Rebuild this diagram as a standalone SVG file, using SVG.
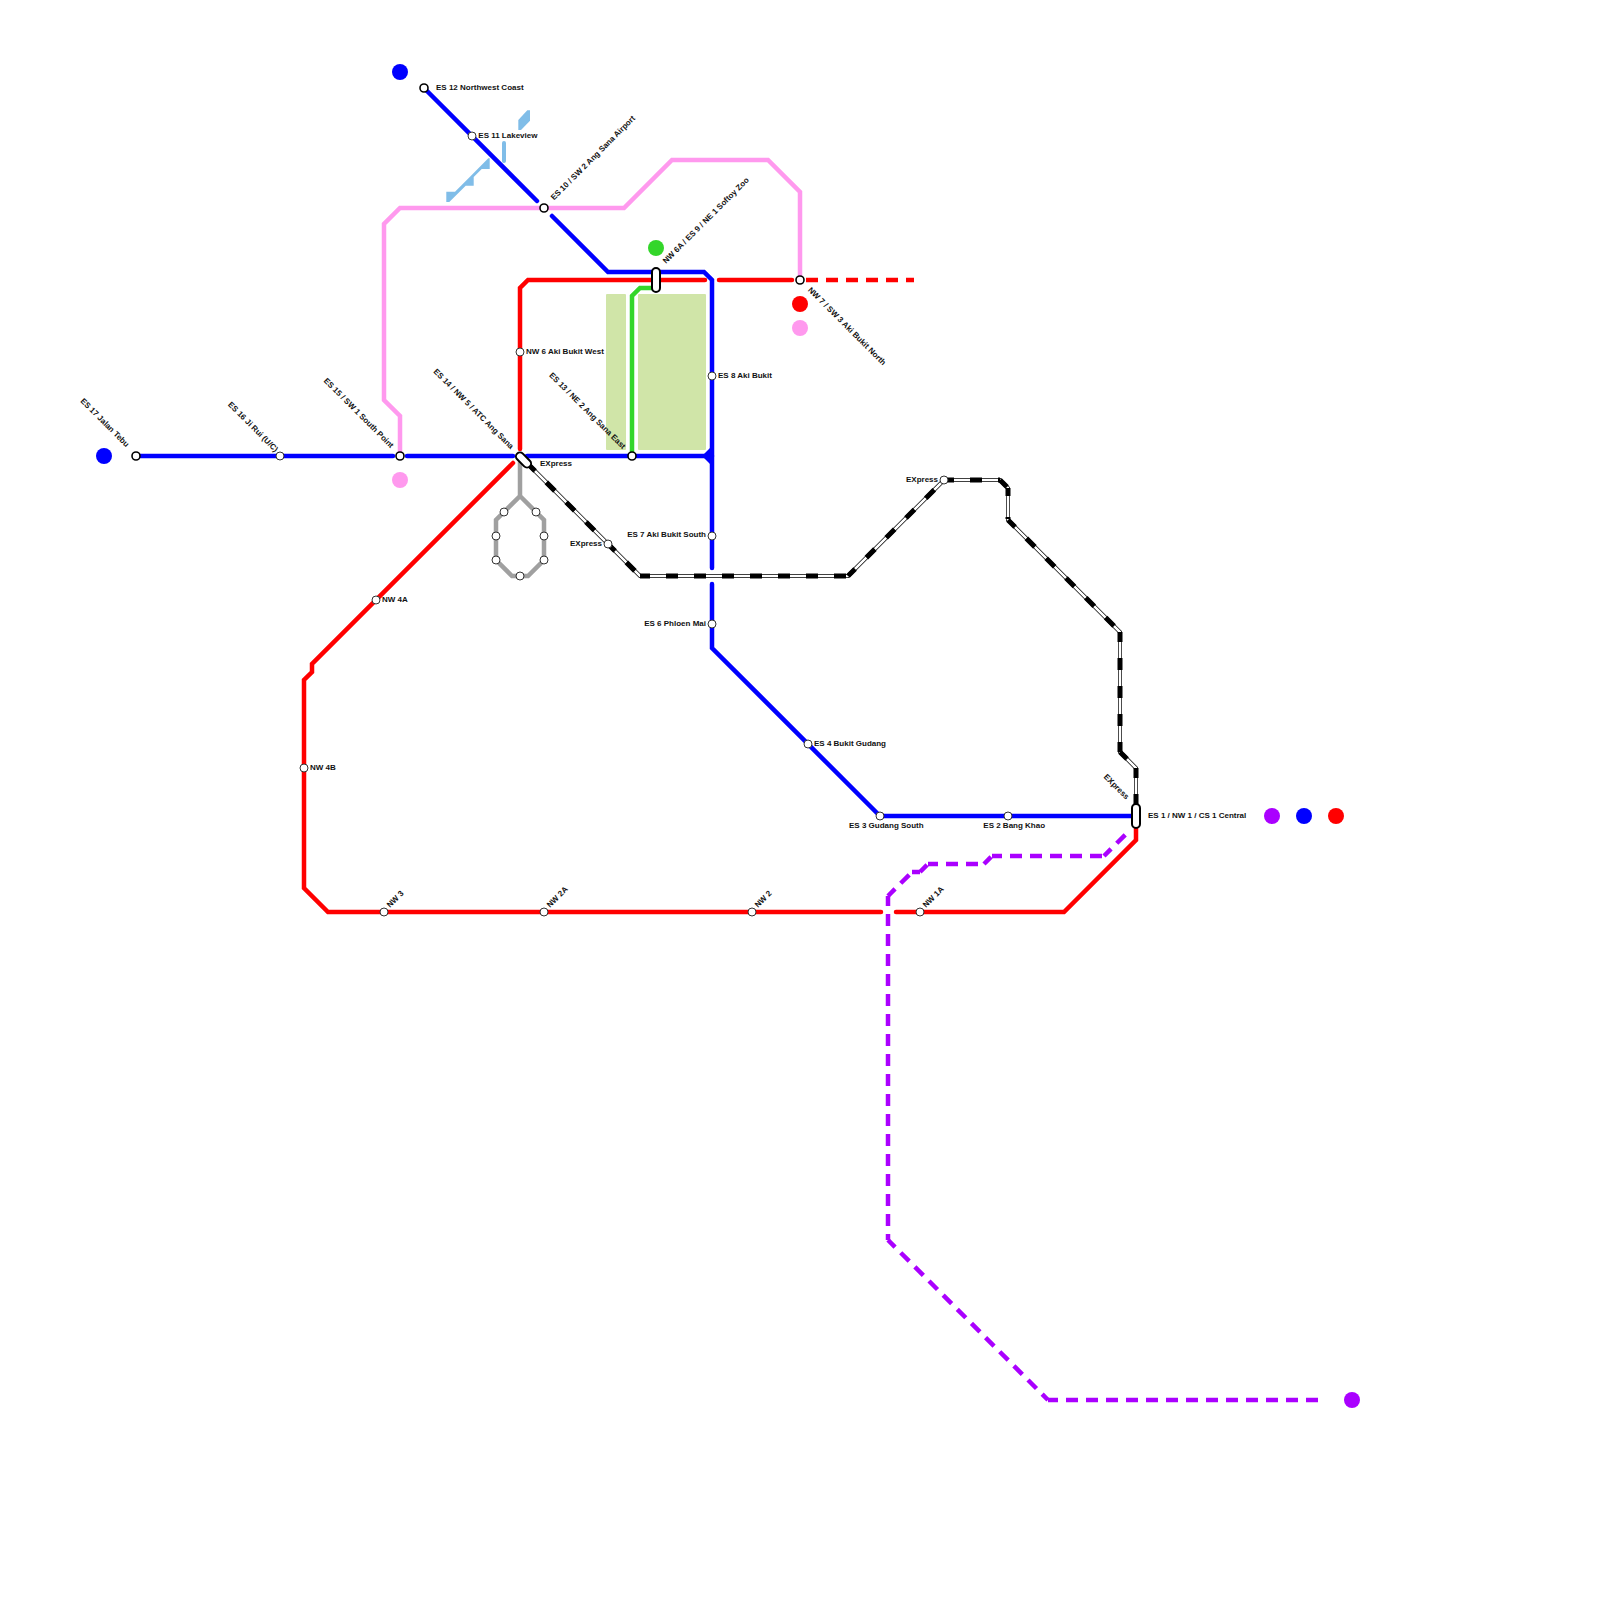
<svg xmlns="http://www.w3.org/2000/svg" width="1600" height="1600" viewBox="0 0 1600 1600">
<style>
.bg{fill:#fff}
.park{fill:#d0e5a8}
.water{fill:#80bde8}
.ln{fill:none;stroke-width:4.5;stroke-linejoin:miter;stroke-linecap:round}
.blue{stroke:#0000ff}.red{stroke:#ff0000}.pink{stroke:#ff99ee}.green{stroke:#33d62a}.gray{stroke:#a0a0a0}
.dash{stroke-linecap:butt;stroke-dasharray:12 8;stroke-dashoffset:2}
.pur{stroke:#aa00ff}
.xb{fill:none;stroke:#000;stroke-width:4}
.xw{fill:none;stroke:#fff;stroke-width:2.6}
.xd{fill:none;stroke:#000;stroke-width:5;stroke-dasharray:12 16;stroke-dashoffset:2}
.st{fill:#fff;stroke:#333;stroke-width:1}
.ic{fill:#fff;stroke:#000;stroke-width:1.6}
.ir{fill:#fff;stroke:#000;stroke-width:2}
.lb{font-family:"Liberation Sans",Arial,sans-serif;font-size:8px;font-weight:700;fill:#111}
.e{text-anchor:end}
</style>
<rect class="bg" width="1600" height="1600"/>
<g id="parks">
<rect class="park" x="606" y="294" width="20" height="156" rx="1"/>
<rect class="park" x="638" y="294" width="68" height="156" rx="1"/>
</g>
<g id="water">
<polygon class="water" points="446.300,191.700 455,191.700 470,176.700 488.300,158.300 489.700,158.300 489.700,169 481.700,169 473.700,177 473.700,185.700 465.700,185.700 449.300,202 446.300,202"/>
<polygon class="water" points="518.300,120 527.300,110.300 530,110.300 530,120.700 521,130 518.300,130"/>
<path d="M504 143V161" fill="none" stroke="#80bde8" stroke-width="4" stroke-linecap="round"/>
</g>
<g id="connectors">
<path class="ln gray" d="M520 462V496L496 520V560L512 576H528L544 560V520L520 496"/>
<path class="ln pink" d="M400 456V416L384 400V224L400 208H624L672 160H768L800 192V280"/>
<path class="ln green" d="M632 456V296L640 288H656"/>
<path class="ln red" d="M520 449V288L528 280H705"/>
<path class="ln red" d="M719 280H792"/>
<path class="ln red" style="stroke-linecap:butt;stroke-dasharray:12 8;stroke-dashoffset:14" d="M800 280H914"/>
<path class="ln red" d="M1136 828V840L1064 912H896"/>
<path class="ln red" d="M881 912H328L304 888V680L312 672V664L513 463"/>
<path class="ln blue" d="M136 456H393"/>
<path class="ln blue" d="M407 456H513"/>
<path class="ln blue" d="M527 456H712"/>
<path class="ln blue" d="M424 88L537 201"/>
<path class="ln blue" d="M552 216L608 272H704L712 280V568"/>
<path class="ln blue" d="M712 584V648L880 816H1136"/>
<polygon fill="#0000ff" points="702,456 711,447 711,465"/>
<path class="ln pur dash" d="M888 896L912 872"/>
<path class="ln pur dash" d="M912 872H920"/>
<path class="ln pur dash" d="M920 872L928 864"/>
<path class="ln pur dash" d="M928 864H984"/>
<path class="ln pur dash" d="M984 864L992 856"/>
<path class="ln pur dash" d="M992 856H1104"/>
<path class="ln pur dash" d="M1104 856L1128 832"/>
<path class="ln pur dash" d="M888 896V1240"/>
<path class="ln pur dash" d="M888 1240L1048 1400"/>
<path class="ln pur dash" d="M1048 1400H1320"/>
<path class="xb" d="M528 464L640 576H848L944 480H1000L1008 488V520L1120 632V752L1136 768V816"/>
<path class="xw" d="M528 464L640 576H848L944 480H1000L1008 488V520L1120 632V752L1136 768V816"/>
<path class="xd" d="M528 464L608 544"/>
<path class="xd" d="M608 544L640 576"/>
<path class="xd" d="M640 576H848"/>
<path class="xd" d="M848 576L944 480"/>
<path class="xd" d="M944 480H1000"/>
<path class="xd" d="M1000 480L1008 488"/>
<path class="xd" style="stroke-dasharray:10 21 2" d="M1008 488V520"/>
<path class="xd" d="M1008 520L1120 632"/>
<path class="xd" d="M1120 632V752"/>
<path class="xd" d="M1120 752L1136 768"/>
<path class="xd" d="M1136 768V816"/>
</g>
<g id="terminals">
<circle cx="400" cy="72" r="8" fill="#0000ff"/>
<circle cx="104" cy="456" r="8" fill="#0000ff"/>
<circle cx="400" cy="480" r="8" fill="#ff99ee"/>
<circle cx="800" cy="304" r="8" fill="#ff0000"/>
<circle cx="800" cy="328" r="8" fill="#ff99ee"/>
<circle cx="656" cy="248" r="8" fill="#33d62a"/>
<circle cx="1272" cy="816" r="8" fill="#aa00ff"/>
<circle cx="1304" cy="816" r="8" fill="#0000ff"/>
<circle cx="1336" cy="816" r="8" fill="#ff0000"/>
<circle cx="1352" cy="1400" r="8" fill="#aa00ff"/>
</g>
<g id="es17"><circle class="ic" cx="136" cy="456" r="4"/><text class="lb e" transform="rotate(45 126 447.500)" x="126" y="447.500">ES 17 Jalan Tebu</text></g>
<g id="es16"><circle class="st" cx="280" cy="456" r="4"/><text class="lb e" transform="rotate(45 275 452.500)" x="275" y="452.500">ES 16 Ji Rui (U/C)</text></g>
<g id="es15"><circle class="ic" cx="400" cy="456" r="4"/><text class="lb e" transform="rotate(45 390.500 448.500)" x="390.500" y="448.500">ES 15 / SW 1 South Point</text></g>
<g id="es14"><rect class="ir" x="514.500" y="456" width="18" height="8" rx="4" transform="rotate(45 523.500 460)"/><text class="lb e" transform="rotate(45 510.500 449.500)" x="510.500" y="449.500">ES 14 / NW 5 / ATC Ang Sana</text><text class="lb" x="540" y="465.500">EXpress</text></g>
<g id="es13"><circle class="ic" cx="632" cy="456" r="4"/><text class="lb e" transform="rotate(45 622.500 449.500)" x="622.500" y="449.500">ES 13 / NE 2 Ang Sana East</text></g>
<g id="es12"><circle class="ic" cx="424" cy="88" r="4"/><text class="lb" x="436" y="89.500">ES 12 Northwest Coast</text></g>
<g id="es11"><circle class="st" cx="472" cy="136" r="4"/><text class="lb" x="478.300" y="137.500">ES 11 Lakeview</text></g>
<g id="es10"><circle class="ic" cx="544" cy="208" r="4"/><text class="lb" transform="rotate(-45 554 200.500)" x="554" y="200.500">ES 10 / SW 2 Ang Sana Airport</text></g>
<g id="nw6a"><rect class="ir" x="652" y="268" width="8" height="24" rx="4"/><text class="lb" transform="rotate(-45 666 264)" x="666" y="264">NW 6A / ES 9 / NE 1 Softoy Zoo</text></g>
<g id="nw7"><circle class="ic" cx="800" cy="280" r="4"/><text class="lb" transform="rotate(45 807.500 290.500)" x="807.500" y="290.500">NW 7 / SW 3 Aki Bukit North</text></g>
<g id="nw6"><circle class="st" cx="520" cy="352" r="4"/><text class="lb" x="526" y="353.500">NW 6 Aki Bukit West</text></g>
<g id="es8"><circle class="st" cx="712" cy="376" r="4"/><text class="lb" x="718" y="377.500">ES 8 Aki Bukit</text></g>
<g id="es7"><circle class="st" cx="712" cy="536" r="4"/><text class="lb e" x="706" y="537">ES 7 Aki Bukit South</text></g>
<g id="es6"><circle class="st" cx="712" cy="624" r="4"/><text class="lb e" x="706" y="625.500">ES 6 Phloen Mai</text></g>
<g id="es4"><circle class="st" cx="808" cy="744" r="4"/><text class="lb" x="814" y="745.500">ES 4 Bukit Gudang</text></g>
<g id="es3"><circle class="st" cx="880" cy="816" r="4"/><text class="lb" x="849" y="827.500">ES 3 Gudang South</text></g>
<g id="es2"><circle class="st" cx="1008" cy="816" r="4"/><text class="lb" x="983.300" y="827.500">ES 2 Bang Khao</text></g>
<g id="es1"><rect class="ir" x="1132" y="804" width="8" height="24" rx="4"/><text class="lb" x="1148" y="817.500">ES 1 / NW 1 / CS 1 Central</text><text class="lb e" transform="rotate(45 1126 800)" x="1126" y="800">EXpress</text></g>
<g id="ex1"><circle class="st" cx="608" cy="544" r="4"/><text class="lb e" x="602" y="545.500">EXpress</text></g>
<g id="ex2"><circle class="st" cx="944" cy="480" r="4"/><text class="lb e" x="938" y="481.500">EXpress</text></g>
<g id="nw4a"><circle class="st" cx="376" cy="600" r="4"/><text class="lb" x="382" y="601.500">NW 4A</text></g>
<g id="nw4b"><circle class="st" cx="304" cy="768" r="4"/><text class="lb" x="310" y="769.500">NW 4B</text></g>
<g id="nw3"><circle class="st" cx="384" cy="912" r="4"/><text class="lb" transform="rotate(-45 390 908)" x="390" y="908">NW 3</text></g>
<g id="nw2a"><circle class="st" cx="544" cy="912" r="4"/><text class="lb" transform="rotate(-45 550 908)" x="550" y="908">NW 2A</text></g>
<g id="nw2"><circle class="st" cx="752" cy="912" r="4"/><text class="lb" transform="rotate(-45 758 908)" x="758" y="908">NW 2</text></g>
<g id="nw1a"><circle class="st" cx="920" cy="912" r="4"/><text class="lb" transform="rotate(-45 926 908)" x="926" y="908">NW 1A</text></g>
<g id="loop">
<circle class="st" cx="504" cy="512" r="4"/><circle class="st" cx="536" cy="512" r="4"/>
<circle class="st" cx="496" cy="536" r="4"/><circle class="st" cx="544" cy="536" r="4"/>
<circle class="st" cx="496" cy="560" r="4"/><circle class="st" cx="544" cy="560" r="4"/>
<circle class="st" cx="520" cy="576" r="4"/>
</g>
</svg>
